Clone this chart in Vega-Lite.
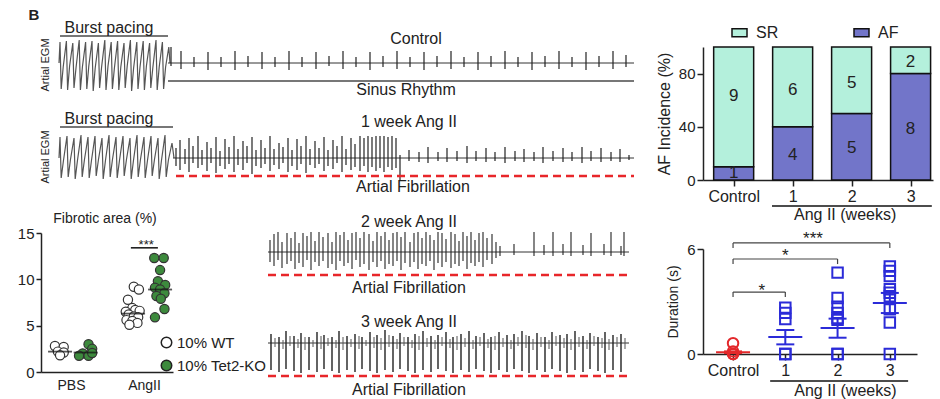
{
"$schema":"https://vega.github.io/schema/vega-lite/v6.json",
"padding":{"left":16,"top":7,"right":0,"bottom":0},
"background":"white",
"config":{"view":{"stroke":"transparent"},"font":"Liberation Sans",
"axis":{"grid":false,"domainColor":"#222","tickColor":"#222","labelColor":"#222","titleColor":"#222","domainWidth":1.5,"tickWidth":1.5,"labelFont":"Liberation Sans","titleFont":"Liberation Sans","titleFontWeight":"normal"},
"legend":{"labelFont":"Liberation Sans","labelColor":"#222"},
"text":{"font":"Liberation Sans","color":"#222"}},
"resolve":{"scale":{"color":"independent","fill":"independent"},"legend":{"color":"independent","fill":"independent"}},
"spacing":19,
"hconcat":[
{"spacing":0,"resolve":{"scale":{"fill":"independent"},"legend":{"fill":"independent"}},"vconcat":[
{"width":593,"height":56,
"encoding":{"x":{"field":"x","type":"quantitative","scale":{"domain":[-18,575],"nice":false,"zero":false},"axis":null},
"y":{"field":"y","type":"quantitative","scale":{"domain":[-40,16],"nice":false,"zero":false},"axis":null}},
"layer":[
{"data":{"values":[{"x":0,"y":0},{"x":1,"y":21},{"x":2.2,"y":-26},{"x":4.2,"y":-4},{"x":7.4,"y":22},{"x":8.6,"y":-27},{"x":10.6,"y":-3},{"x":13.8,"y":20},{"x":15,"y":-25},{"x":17,"y":-5},{"x":20.2,"y":23},{"x":21.4,"y":-27},{"x":23.4,"y":-4},{"x":26.6,"y":21},{"x":27.8,"y":-26},{"x":29.8,"y":-3},{"x":33,"y":22},{"x":34.2,"y":-28},{"x":36.2,"y":-5},{"x":39.4,"y":20},{"x":40.6,"y":-25},{"x":42.6,"y":-4},{"x":45.8,"y":23},{"x":47,"y":-27},{"x":49,"y":-3},{"x":52.2,"y":21},{"x":53.4,"y":-26},{"x":55.4,"y":-5},{"x":58.6,"y":22},{"x":59.8,"y":-27},{"x":61.8,"y":-4},{"x":65,"y":20},{"x":66.2,"y":-25},{"x":68.2,"y":-3},{"x":71.4,"y":23},{"x":72.6,"y":-28},{"x":74.6,"y":-5},{"x":77.8,"y":21},{"x":79,"y":-26},{"x":81,"y":-4},{"x":84.2,"y":22},{"x":85.4,"y":-27},{"x":87.4,"y":-3},{"x":90.6,"y":20},{"x":91.8,"y":-25},{"x":93.8,"y":-5},{"x":97,"y":23},{"x":98.2,"y":-27},{"x":100.2,"y":-4},{"x":103.4,"y":21},{"x":104.6,"y":-26},{"x":106.6,"y":-4},{"x":109.8,"y":16},{"x":111,"y":0}]},
"mark":{"type":"line","color":"#555","strokeWidth":1.2}},
{"data":{"values":[{"x":109,"x2":575,"y":0}]},"mark":{"type":"rule","color":"#333","strokeWidth":1},"encoding":{"x2":{"field":"x2"}}},
{"data":{"values":[{"x":112,"y":-3,"y2":16},{"x":122,"y":-6,"y2":12},{"x":135,"y":-4,"y2":6},{"x":149,"y":-7,"y2":11},{"x":162,"y":-4,"y2":6},{"x":176,"y":-7,"y2":12},{"x":189,"y":-4,"y2":7},{"x":203,"y":-6,"y2":11},{"x":216,"y":-4,"y2":6},{"x":230,"y":-7,"y2":12},{"x":243,"y":-4,"y2":6},{"x":257,"y":-6,"y2":11},{"x":270,"y":-3,"y2":7},{"x":284,"y":-6,"y2":12},{"x":297,"y":-4,"y2":6},{"x":311,"y":-7,"y2":11},{"x":324,"y":-4,"y2":7},{"x":338,"y":-6,"y2":12},{"x":351,"y":-4,"y2":6},{"x":365,"y":-7,"y2":11},{"x":378,"y":-4,"y2":7},{"x":392,"y":-6,"y2":12},{"x":405,"y":-4,"y2":6},{"x":419,"y":-7,"y2":11},{"x":432,"y":-4,"y2":7},{"x":446,"y":-6,"y2":12},{"x":459,"y":-4,"y2":6},{"x":473,"y":-7,"y2":11},{"x":486,"y":-4,"y2":7},{"x":500,"y":-6,"y2":12},{"x":513,"y":-4,"y2":6},{"x":527,"y":-7,"y2":11},{"x":540,"y":-4,"y2":7},{"x":554,"y":-6,"y2":12},{"x":567,"y":-4,"y2":8}]},
"mark":{"type":"rule","color":"#222","strokeWidth":1.2},"encoding":{"y2":{"field":"y2"}}},
{"data":{"values":[{"x":1,"x2":109,"y":27},{"x":109,"x2":575,"y":-18}]},"mark":{"type":"rule","color":"#777","strokeWidth":1.8},"encoding":{"x2":{"field":"x2"}}},
{"data":{"values":[{"x":50,"y":35,"t":"Burst pacing"},{"x":357,"y":24,"t":"Control"},{"x":347,"y":-27,"t":"Sinus Rhythm"}]},"mark":{"type":"text","fontSize":16,"baseline":"middle"},"encoding":{"text":{"field":"t"}}},
{"data":{"values":[{"x":-25,"y":48,"t":"B"}]},"mark":{"type":"text","fontSize":15,"fontWeight":"bold","baseline":"middle"},"encoding":{"text":{"field":"t"}}},
{"data":{"values":[{"x":-13,"y":-2,"t":"Artial EGM"}]},"mark":{"type":"text","fontSize":11,"angle":270,"baseline":"middle"},"encoding":{"text":{"field":"t"}}}
]},
{"width":593,"height":105,
"encoding":{"x":{"field":"x","type":"quantitative","scale":{"domain":[-18,575],"nice":false,"zero":false},"axis":null},
"y":{"field":"y","type":"quantitative","scale":{"domain":[-52,53],"nice":false,"zero":false},"axis":null}},
"layer":[
{"data":{"values":[{"x":0,"y":0},{"x":1,"y":21},{"x":2.2,"y":-20},{"x":4.4,"y":-3},{"x":8,"y":22},{"x":9.2,"y":-19},{"x":11.4,"y":-2},{"x":15,"y":20},{"x":16.2,"y":-21},{"x":18.4,"y":-3},{"x":22,"y":23},{"x":23.2,"y":-19},{"x":25.4,"y":-2},{"x":29,"y":21},{"x":30.2,"y":-20},{"x":32.4,"y":-3},{"x":36,"y":22},{"x":37.2,"y":-18},{"x":39.4,"y":-2},{"x":43,"y":20},{"x":44.2,"y":-21},{"x":46.4,"y":-3},{"x":50,"y":23},{"x":51.2,"y":-19},{"x":53.4,"y":-2},{"x":57,"y":21},{"x":58.2,"y":-20},{"x":60.4,"y":-3},{"x":64,"y":22},{"x":65.2,"y":-18},{"x":67.4,"y":-2},{"x":71,"y":20},{"x":72.2,"y":-21},{"x":74.4,"y":-3},{"x":78,"y":23},{"x":79.2,"y":-19},{"x":81.4,"y":-2},{"x":85,"y":21},{"x":86.2,"y":-20},{"x":88.4,"y":-3},{"x":92,"y":22},{"x":93.2,"y":-18},{"x":95.4,"y":-2},{"x":99,"y":20},{"x":100.2,"y":-21},{"x":102.4,"y":-3},{"x":106,"y":23},{"x":107.2,"y":-19},{"x":109.4,"y":-2},{"x":113,"y":15},{"x":115,"y":0}]},
"mark":{"type":"line","color":"#555","strokeWidth":1.2}},
{"data":{"values":[{"x":114,"x2":575,"y":0}]},"mark":{"type":"rule","color":"#333","strokeWidth":1},"encoding":{"x2":{"field":"x2"}}},
{"data":{"values":[{"x":117,"y":-8,"y2":10},{"x":121,"y":-12,"y2":18},{"x":126,"y":-6,"y2":9},{"x":130,"y":-14,"y2":20},{"x":134,"y":-5,"y2":12},{"x":139,"y":-10,"y2":22},{"x":143,"y":-7,"y2":8},{"x":148,"y":-13,"y2":16},{"x":152,"y":-5,"y2":10},{"x":157,"y":-15,"y2":21},{"x":161,"y":-8,"y2":7},{"x":166,"y":-11,"y2":19},{"x":170,"y":-6,"y2":11},{"x":175,"y":-14,"y2":22},{"x":179,"y":-7,"y2":9},{"x":184,"y":-12,"y2":17},{"x":188,"y":-5,"y2":12},{"x":193,"y":-16,"y2":21},{"x":197,"y":-8,"y2":8},{"x":202,"y":-10,"y2":18},{"x":206,"y":-6,"y2":10},{"x":211,"y":-13,"y2":22},{"x":215,"y":-7,"y2":9},{"x":220,"y":-11,"y2":15},{"x":224,"y":-5,"y2":11},{"x":229,"y":-14,"y2":20},{"x":233,"y":-8,"y2":8},{"x":238,"y":-12,"y2":19},{"x":242,"y":-6,"y2":12},{"x":247,"y":-15,"y2":22},{"x":251,"y":-7,"y2":9},{"x":256,"y":-10,"y2":17},{"x":260,"y":-6,"y2":10},{"x":265,"y":-13,"y2":21},{"x":269,"y":-8,"y2":8},{"x":274,"y":-11,"y2":18},{"x":278,"y":-5,"y2":12},{"x":283,"y":-14,"y2":22},{"x":287,"y":-7,"y2":9},{"x":292,"y":-12,"y2":20},{"x":296,"y":-9,"y2":14},{"x":301,"y":-13,"y2":22},{"x":305,"y":-8,"y2":20},{"x":309,"y":-14,"y2":22},{"x":313,"y":-9,"y2":21},{"x":317,"y":-13,"y2":22},{"x":321,"y":-10,"y2":22},{"x":325,"y":-14,"y2":22},{"x":329,"y":-9,"y2":21},{"x":333,"y":-12,"y2":22},{"x":337,"y":-10,"y2":20},{"x":341,"y":-22,"y2":3},{"x":350,"y":-3,"y2":8},{"x":360,"y":-4,"y2":6},{"x":369,"y":-5,"y2":11},{"x":379,"y":-3,"y2":6},{"x":388,"y":-4,"y2":10},{"x":398,"y":-3,"y2":7},{"x":408,"y":-5,"y2":12},{"x":417,"y":-3,"y2":7},{"x":427,"y":-4,"y2":10},{"x":436,"y":-3,"y2":6},{"x":446,"y":-5,"y2":11},{"x":456,"y":-3,"y2":7},{"x":465,"y":-4,"y2":9},{"x":475,"y":-3,"y2":6},{"x":484,"y":-5,"y2":11},{"x":494,"y":-3,"y2":7},{"x":504,"y":-4,"y2":10},{"x":513,"y":-3,"y2":6},{"x":523,"y":-5,"y2":11},{"x":532,"y":-3,"y2":7},{"x":542,"y":-4,"y2":10},{"x":552,"y":-3,"y2":6},{"x":561,"y":-4,"y2":9},{"x":570,"y":-2,"y2":3}]},
"mark":{"type":"rule","color":"#222","strokeWidth":1.2},"encoding":{"y2":{"field":"y2"}}},
{"data":{"values":[{"x":1,"x2":114,"y":31}]},"mark":{"type":"rule","color":"#777","strokeWidth":1.8},"encoding":{"x2":{"field":"x2"}}},
{"data":{"values":[{"x":117,"x2":575,"y":-18}]},"mark":{"type":"rule","color":"#e8262a","strokeWidth":2.5,"strokeDash":[8,5]},"encoding":{"x2":{"field":"x2"}}},
{"data":{"values":[{"x":50,"y":39,"t":"Burst pacing"},{"x":350,"y":36,"t":"1 week Ang II"},{"x":354,"y":-29,"t":"Artial Fibrillation"}]},"mark":{"type":"text","fontSize":16,"baseline":"middle"},"encoding":{"text":{"field":"t"}}},
{"data":{"values":[{"x":-13,"y":1,"t":"Artial EGM"}]},"mark":{"type":"text","fontSize":11,"angle":270,"baseline":"middle"},"encoding":{"text":{"field":"t"}}}
]},
{"spacing":-3,"resolve":{"scale":{"fill":"independent"},"legend":{"fill":"independent"}},"hconcat":[
{"width":132,"height":139,
"title":{"text":"Fibrotic area (%)","fontSize":14,"fontWeight":"normal","anchor":"start","dx":36,"offset":0,"font":"Liberation Sans","color":"#222"},
"layer":[
{"data":{"values":[{"x":0.78,"y":2.8,"gt":"10% WT"},{"x":0.9,"y":2.7,"gt":"10% WT"},{"x":0.82,"y":2.2,"gt":"10% WT"},{"x":0.9,"y":2.1,"gt":"10% WT"},{"x":0.85,"y":1.8,"gt":"10% WT"},
{"x":1.24,"y":3.0,"gt":"10% Tet2-KO"},{"x":1.29,"y":2.5,"gt":"10% Tet2-KO"},{"x":1.16,"y":2.0,"gt":"10% Tet2-KO"},{"x":1.11,"y":1.75,"gt":"10% Tet2-KO"},{"x":1.24,"y":1.75,"gt":"10% Tet2-KO"},{"x":1.29,"y":2.05,"gt":"10% Tet2-KO"},
{"x":1.78,"y":7.8,"gt":"10% WT"},{"x":1.86,"y":9.2,"gt":"10% WT"},{"x":1.93,"y":8.9,"gt":"10% WT"},{"x":1.84,"y":6.9,"gt":"10% WT"},{"x":1.75,"y":6.5,"gt":"10% WT"},{"x":1.88,"y":6.7,"gt":"10% WT"},{"x":1.94,"y":6.6,"gt":"10% WT"},{"x":1.79,"y":6.2,"gt":"10% WT"},{"x":1.86,"y":6.0,"gt":"10% WT"},{"x":1.92,"y":5.9,"gt":"10% WT"},{"x":1.76,"y":5.6,"gt":"10% WT"},{"x":1.84,"y":5.5,"gt":"10% WT"},{"x":1.91,"y":5.3,"gt":"10% WT"},{"x":1.8,"y":5.1,"gt":"10% WT"},
{"x":2.14,"y":12.3,"gt":"10% Tet2-KO"},{"x":2.27,"y":12.3,"gt":"10% Tet2-KO"},{"x":2.22,"y":11.0,"gt":"10% Tet2-KO"},{"x":2.19,"y":9.8,"gt":"10% Tet2-KO"},{"x":2.29,"y":9.4,"gt":"10% Tet2-KO"},{"x":2.15,"y":9.1,"gt":"10% Tet2-KO"},{"x":2.22,"y":8.9,"gt":"10% Tet2-KO"},{"x":2.28,"y":8.5,"gt":"10% Tet2-KO"},{"x":2.17,"y":8.2,"gt":"10% Tet2-KO"},{"x":2.23,"y":7.9,"gt":"10% Tet2-KO"},{"x":2.28,"y":6.8,"gt":"10% Tet2-KO"},{"x":2.15,"y":5.9,"gt":"10% Tet2-KO"}]},
"mark":{"type":"circle","size":85,"stroke":"#333","strokeWidth":1.2,"opacity":1},
"encoding":{"x":{"field":"x","type":"quantitative","scale":{"domain":[0.589,2.397],"nice":false,"zero":false},"axis":{"values":[1,2],"labelExpr":"datum.value == 1 ? 'PBS' : 'AngII'","ticks":false,"title":null,"labelFontSize":14,"labelPadding":6,"labelFlush":false}},
"y":{"field":"y","type":"quantitative","scale":{"domain":[0,15],"nice":false,"zero":false},"axis":{"values":[0,5,10,15],"title":null,"labelFontSize":15,"tickSize":5,"labelPadding":2}},
"fill":{"field":"gt","type":"nominal","scale":{"domain":["10% WT","10% Tet2-KO"],"range":["white","#3d8a3d"]},"legend":{"orient":"none","legendX":118,"legendY":102,"title":null,"labelFontSize":15,"symbolSize":110,"symbolType":"circle","symbolStrokeColor":"#222","symbolStrokeWidth":1.5,"rowPadding":6,"labelOffset":3}}}},
{"data":{"values":[{"x":0.85,"m":2.2},{"x":1.2,"m":2.1},{"x":1.85,"m":6.3},{"x":2.22,"m":8.9}]},"mark":{"type":"tick","orient":"horizontal","size":24,"thickness":1.8,"color":"#111"},
"encoding":{"x":{"field":"x","type":"quantitative"},"y":{"field":"m","type":"quantitative"}}},
{"data":{"values":[{"x":1.82,"x2":2.19,"y":13.4}]},"mark":{"type":"rule","color":"#111","strokeWidth":1.5},"encoding":{"x":{"field":"x","type":"quantitative"},"x2":{"field":"x2"},"y":{"field":"y","type":"quantitative"}}},
{"data":{"values":[{"x":2.03,"y":13.7,"t":"***"}]},"mark":{"type":"text","fontSize":13,"baseline":"middle"},"encoding":{"x":{"field":"x","type":"quantitative"},"y":{"field":"y","type":"quantitative"},"text":{"field":"t"}}}
]},
{"bounds":"flush","spacing":0,"vconcat":[
{"width":361,"height":67,
"encoding":{"x":{"field":"x","type":"quantitative","scale":{"domain":[0,361],"nice":false,"zero":false},"axis":null},
"y":{"field":"y","type":"quantitative","scale":{"domain":[-48,19],"nice":false,"zero":false},"axis":null}},
"layer":[
{"data":{"values":[{"x":0,"x2":361,"y":0}]},"mark":{"type":"rule","color":"#333","strokeWidth":1},"encoding":{"x2":{"field":"x2"}}},
{"data":{"values":[{"x":2,"y":-10,"y2":12},{"x":6,"y":-14,"y2":18},{"x":10,"y":-8,"y2":20},{"x":14,"y":-16,"y2":10},{"x":19,"y":-12,"y2":19},{"x":23,"y":-9,"y2":14},{"x":27,"y":-17,"y2":20},{"x":31,"y":-11,"y2":9},{"x":35,"y":-15,"y2":19},{"x":39,"y":-8,"y2":16},{"x":43,"y":-18,"y2":20},{"x":47,"y":-10,"y2":11},{"x":51,"y":-14,"y2":20},{"x":55,"y":-9,"y2":15},{"x":60,"y":-16,"y2":19},{"x":64,"y":-12,"y2":10},{"x":68,"y":-18,"y2":20},{"x":72,"y":-9,"y2":17},{"x":76,"y":-14,"y2":20},{"x":80,"y":-11,"y2":12},{"x":84,"y":-17,"y2":19},{"x":88,"y":-8,"y2":20},{"x":92,"y":-15,"y2":14},{"x":96,"y":-12,"y2":20},{"x":101,"y":-18,"y2":18},{"x":105,"y":-10,"y2":11},{"x":109,"y":-15,"y2":20},{"x":113,"y":-9,"y2":16},{"x":117,"y":-17,"y2":20},{"x":121,"y":-12,"y2":12},{"x":125,"y":-14,"y2":19},{"x":129,"y":-9,"y2":20},{"x":133,"y":-18,"y2":15},{"x":137,"y":-11,"y2":20},{"x":142,"y":-15,"y2":10},{"x":146,"y":-10,"y2":19},{"x":150,"y":-17,"y2":20},{"x":154,"y":-12,"y2":14},{"x":158,"y":-14,"y2":20},{"x":162,"y":-9,"y2":17},{"x":166,"y":-18,"y2":12},{"x":170,"y":-11,"y2":20},{"x":174,"y":-15,"y2":19},{"x":178,"y":-10,"y2":13},{"x":183,"y":-16,"y2":20},{"x":187,"y":-12,"y2":18},{"x":191,"y":-14,"y2":11},{"x":195,"y":-9,"y2":20},{"x":199,"y":-17,"y2":16},{"x":203,"y":-11,"y2":20},{"x":207,"y":-14,"y2":12},{"x":211,"y":-10,"y2":19},{"x":215,"y":-15,"y2":20},{"x":219,"y":-8,"y2":14},{"x":224,"y":-12,"y2":18},{"x":228,"y":-6,"y2":10},{"x":232,"y":-4,"y2":6},{"x":246,"y":-3,"y2":8},{"x":266,"y":-4,"y2":20},{"x":276,"y":-3,"y2":7},{"x":285,"y":-4,"y2":20},{"x":295,"y":-3,"y2":8},{"x":303,"y":-4,"y2":20},{"x":315,"y":-3,"y2":7},{"x":323,"y":-4,"y2":19},{"x":336,"y":-3,"y2":8},{"x":343,"y":-4,"y2":20},{"x":353,"y":-3,"y2":6},{"x":356,"y":-4,"y2":20}]},
"mark":{"type":"rule","color":"#222","strokeWidth":1.1},"encoding":{"y2":{"field":"y2"}}},
{"data":{"values":[{"x":0,"x2":361,"y":-23}]},"mark":{"type":"rule","color":"#e8262a","strokeWidth":2.5,"strokeDash":[8,5]},"encoding":{"x2":{"field":"x2"}}},
{"data":{"values":[{"x":141,"y":30,"t":"2 week Ang II"},{"x":141,"y":-36,"t":"Artial Fibrillation"}]},"mark":{"type":"text","fontSize":16,"baseline":"middle"},"encoding":{"text":{"field":"t"}}}
]},
{"width":361,"height":76,
"encoding":{"x":{"field":"x","type":"quantitative","scale":{"domain":[0,361],"nice":false,"zero":false},"axis":null},
"y":{"field":"y","type":"quantitative","scale":{"domain":[-33,43],"nice":false,"zero":false},"axis":null}},
"layer":[
{"data":{"values":[{"x":0,"x2":361,"y":0}]},"mark":{"type":"rule","color":"#333","strokeWidth":1},"encoding":{"x2":{"field":"x2"}}},
{"data":{"values":[{"x":3,"y":-27,"y2":9},{"x":11,"y":-29,"y2":6},{"x":18,"y":-26,"y2":12},{"x":26,"y":-28,"y2":7},{"x":33,"y":-30,"y2":10},{"x":41,"y":-27,"y2":6},{"x":49,"y":-29,"y2":11},{"x":56,"y":-26,"y2":8},{"x":64,"y":-28,"y2":6},{"x":71,"y":-30,"y2":12},{"x":79,"y":-27,"y2":7},{"x":87,"y":-29,"y2":9},{"x":94,"y":-26,"y2":6},{"x":102,"y":-28,"y2":11},{"x":109,"y":-30,"y2":8},{"x":117,"y":-27,"y2":13},{"x":125,"y":-29,"y2":7},{"x":132,"y":-26,"y2":10},{"x":140,"y":-28,"y2":6},{"x":147,"y":-30,"y2":9},{"x":155,"y":-27,"y2":12},{"x":163,"y":-29,"y2":7},{"x":170,"y":-26,"y2":8},{"x":178,"y":-28,"y2":11},{"x":185,"y":-30,"y2":6},{"x":193,"y":-27,"y2":9},{"x":201,"y":-29,"y2":12},{"x":208,"y":-26,"y2":7},{"x":216,"y":-28,"y2":10},{"x":223,"y":-30,"y2":6},{"x":231,"y":-27,"y2":11},{"x":239,"y":-29,"y2":8},{"x":246,"y":-26,"y2":9},{"x":254,"y":-28,"y2":12},{"x":261,"y":-30,"y2":7},{"x":269,"y":-27,"y2":10},{"x":277,"y":-29,"y2":6},{"x":284,"y":-26,"y2":11},{"x":292,"y":-28,"y2":8},{"x":299,"y":-30,"y2":9},{"x":307,"y":-27,"y2":12},{"x":315,"y":-29,"y2":7},{"x":322,"y":-26,"y2":10},{"x":330,"y":-28,"y2":6},{"x":337,"y":-30,"y2":11},{"x":345,"y":-27,"y2":8},{"x":353,"y":-29,"y2":9}]},
"mark":{"type":"rule","color":"#222","strokeWidth":1.4},"encoding":{"y2":{"field":"y2"}}},
{"data":{"values":[{"x":7,"y":-4,"y2":5},{"x":15,"y":-6,"y2":3},{"x":22,"y":-3,"y2":7},{"x":30,"y":-5,"y2":4},{"x":37,"y":-7,"y2":6},{"x":45,"y":-4,"y2":3},{"x":53,"y":-6,"y2":7},{"x":60,"y":-3,"y2":5},{"x":68,"y":-5,"y2":3},{"x":75,"y":-7,"y2":6},{"x":83,"y":-4,"y2":4},{"x":91,"y":-6,"y2":7},{"x":98,"y":-3,"y2":3},{"x":106,"y":-5,"y2":6},{"x":113,"y":-7,"y2":5},{"x":121,"y":-4,"y2":8},{"x":129,"y":-6,"y2":4},{"x":136,"y":-3,"y2":6},{"x":144,"y":-5,"y2":3},{"x":151,"y":-7,"y2":7},{"x":159,"y":-4,"y2":5},{"x":167,"y":-6,"y2":3},{"x":174,"y":-3,"y2":6},{"x":182,"y":-5,"y2":4},{"x":189,"y":-7,"y2":7},{"x":197,"y":-4,"y2":5},{"x":205,"y":-6,"y2":3},{"x":212,"y":-3,"y2":6},{"x":220,"y":-5,"y2":4},{"x":227,"y":-7,"y2":7},{"x":235,"y":-4,"y2":5},{"x":243,"y":-6,"y2":3},{"x":250,"y":-3,"y2":6},{"x":258,"y":-5,"y2":8},{"x":265,"y":-7,"y2":4},{"x":273,"y":-4,"y2":6},{"x":281,"y":-6,"y2":3},{"x":288,"y":-3,"y2":7},{"x":296,"y":-5,"y2":5},{"x":303,"y":-7,"y2":4},{"x":311,"y":-4,"y2":6},{"x":319,"y":-6,"y2":3},{"x":326,"y":-3,"y2":7},{"x":334,"y":-5,"y2":5},{"x":341,"y":-7,"y2":4},{"x":349,"y":-4,"y2":6},{"x":357,"y":-6,"y2":5}]},
"mark":{"type":"rule","color":"#555","strokeWidth":1},"encoding":{"y2":{"field":"y2"}}},
{"data":{"values":[{"x":0,"x2":361,"y":-33}]},"mark":{"type":"rule","color":"#e8262a","strokeWidth":2.5,"strokeDash":[8,5]},"encoding":{"x2":{"field":"x2"}}},
{"data":{"values":[{"x":141,"y":21,"t":"3 week Ang II"},{"x":141,"y":-47,"t":"Artial Fibrillation"}]},"mark":{"type":"text","fontSize":16,"baseline":"middle"},"encoding":{"text":{"field":"t"}}}
]}
]}
]}
]},
{"bounds":"flush","spacing":69,"resolve":{"scale":{"color":"independent"},"legend":{"color":"independent"}},"vconcat":[
{"width":230,"height":133,
"layer":[
{"data":{"values":[{"g":0,"type":"AF","pct":10,"o":0},{"g":0,"type":"SR","pct":90,"o":1},{"g":1,"type":"AF","pct":40,"o":0},{"g":1,"type":"SR","pct":60,"o":1},{"g":2,"type":"AF","pct":50,"o":0},{"g":2,"type":"SR","pct":50,"o":1},{"g":3,"type":"AF","pct":80,"o":0},{"g":3,"type":"SR","pct":20,"o":1}]},
"mark":{"type":"bar","width":40,"stroke":"#111","strokeWidth":1.5},
"encoding":{"x":{"field":"g","type":"quantitative","scale":{"domain":[-0.52,3.38],"nice":false,"zero":false,"padding":0},"axis":{"values":[0,1,2,3],"format":"d","labelExpr":"datum.value == 0 ? 'Control' : datum.label","title":null,"labelFontSize":16,"tickSize":6,"labelPadding":2,"labelFlush":false,"labelOverlap":false}},
"y":{"field":"pct","type":"quantitative","stack":"zero","scale":{"domain":[0,100],"nice":false},"axis":{"values":[0,20,40,60,80,100],"title":"AF Incidence (%)","titleFontSize":16,"labelFontSize":15,"tickSize":6,"titlePadding":6}},
"color":{"field":"type","type":"nominal","scale":{"domain":["SR","AF"],"range":["#b4f0dc","#7275c9"]},"legend":{"orient":"none","legendX":28,"legendY":-23,"direction":"horizontal","title":null,"labelFontSize":16,"symbolType":"M-1,-0.53H1V0.53H-1Z","symbolSize":225,"symbolStrokeColor":"#111","symbolStrokeWidth":1.5,"columnPadding":72,"labelOffset":8}},
"order":{"field":"o","type":"quantitative"}}},
{"data":{"values":[{"g":0,"ly":5,"n":"1"},{"g":0,"ly":63,"n":"9"},{"g":1,"ly":19,"n":"4"},{"g":1,"ly":68,"n":"6"},{"g":2,"ly":24,"n":"5"},{"g":2,"ly":73,"n":"5"},{"g":3,"ly":38,"n":"8"},{"g":3,"ly":89,"n":"2"}]},
"mark":{"type":"text","fontSize":17,"baseline":"middle"},
"encoding":{"x":{"field":"g","type":"quantitative"},"y":{"field":"ly","type":"quantitative"},"text":{"field":"n"}}},
{"data":{"values":[{"x":0.65,"x2":3.36,"y":-19.5}]},"mark":{"type":"rule","color":"#111","strokeWidth":1.5},"encoding":{"x":{"field":"x","type":"quantitative"},"x2":{"field":"x2"},"y":{"field":"y","type":"quantitative"}}},
{"data":{"values":[{"x":1.89,"y":-26.3,"t":"Ang II (weeks)"}]},"mark":{"type":"text","fontSize":16,"baseline":"middle"},"encoding":{"x":{"field":"x","type":"quantitative"},"y":{"field":"y","type":"quantitative"},"text":{"field":"t"}}}
]},
{"width":214,"height":105,
"layer":[
{"data":{"values":[{"x":0,"y":0.62},{"x":0,"y":0.15},{"x":0,"y":0},{"x":0,"y":0}]},
"mark":{"type":"point","shape":"circle","size":110,"strokeWidth":2,"color":"#e3282b","filled":false,"opacity":1},
"encoding":{"x":{"field":"x","type":"quantitative","scale":{"domain":[-0.575,3.52],"nice":false,"zero":false},"axis":{"values":[0,1,2,3],"format":"d","labelExpr":"datum.value == 0 ? 'Control' : datum.label","title":null,"labelFontSize":16,"tickSize":6,"labelPadding":2,"labelFlush":false,"labelOverlap":false}},
"y":{"field":"y","type":"quantitative","scale":{"domain":[0,6],"nice":false,"zero":false},"axis":{"values":[0,2,4,6],"title":"Duration (s)","titleFontSize":14,"labelFontSize":15,"tickSize":6,"titlePadding":6}}}},
{"data":{"values":[{"x":1,"y":0},{"x":1,"y":0},{"x":1,"y":2.0},{"x":1,"y":2.35},{"x":1,"y":2.65},{"x":2,"y":0},{"x":2,"y":0},{"x":2,"y":1.95},{"x":2,"y":2.05},{"x":2,"y":2.35},{"x":2,"y":2.7},{"x":2,"y":3.2},{"x":2,"y":4.65},{"x":3,"y":0},{"x":3,"y":1.8},{"x":3,"y":2.55},{"x":3,"y":3.3},{"x":3,"y":3.5},{"x":3,"y":3.7},{"x":3,"y":4.45},{"x":3,"y":4.75},{"x":3,"y":5.0}]},
"mark":{"type":"point","shape":"square","size":110,"strokeWidth":2,"color":"#2b2bd8","filled":false,"opacity":1},
"encoding":{"x":{"field":"x","type":"quantitative"},"y":{"field":"y","type":"quantitative"}}},
{"data":{"values":[{"x":0,"m":0.1,"lo":0.05,"hi":0.15,"grp":"c"},{"x":1,"m":0.97,"lo":0.55,"hi":1.37,"grp":"a"},{"x":2,"m":1.49,"lo":0.93,"hi":2.02,"grp":"a"},{"x":3,"m":2.91,"lo":2.34,"hi":3.49,"grp":"a"}]},
"layer":[
{"mark":{"type":"rule","strokeWidth":2},"encoding":{"x":{"field":"x","type":"quantitative"},"y":{"field":"lo","type":"quantitative"},"y2":{"field":"hi"},"color":{"field":"grp","type":"nominal","scale":{"domain":["c","a"],"range":["#e3282b","#2b2bd8"]},"legend":null}}},
{"mark":{"type":"tick","orient":"horizontal","size":34,"thickness":2,"opacity":1},"encoding":{"x":{"field":"x","type":"quantitative"},"y":{"field":"m","type":"quantitative"},"color":{"field":"grp","type":"nominal","legend":null}}},
{"mark":{"type":"tick","orient":"horizontal","size":18,"thickness":2,"opacity":1},"encoding":{"x":{"field":"x","type":"quantitative"},"y":{"field":"lo","type":"quantitative"},"color":{"field":"grp","type":"nominal","legend":null}}},
{"mark":{"type":"tick","orient":"horizontal","size":18,"thickness":2,"opacity":1},"encoding":{"x":{"field":"x","type":"quantitative"},"y":{"field":"hi","type":"quantitative"},"color":{"field":"grp","type":"nominal","legend":null}}}
]},
{"data":{"values":[{"a":0,"b":3,"y":6.35,"ye":6.06,"t":"***","tx":1.53,"ty":6.6},{"a":0,"b":2,"y":5.43,"ye":5.14,"t":"*","tx":1.0,"ty":5.62},{"a":0,"b":1,"y":3.54,"ye":3.26,"t":"*","tx":0.55,"ty":3.6}]},
"layer":[
{"mark":{"type":"rule","color":"#444","strokeWidth":1.2},"encoding":{"x":{"field":"a","type":"quantitative"},"x2":{"field":"b"},"y":{"field":"y","type":"quantitative"}}},
{"mark":{"type":"rule","color":"#444","strokeWidth":1.2},"encoding":{"x":{"field":"a","type":"quantitative"},"y":{"field":"y","type":"quantitative"},"y2":{"field":"ye"}}},
{"mark":{"type":"rule","color":"#444","strokeWidth":1.2},"encoding":{"x":{"field":"b","type":"quantitative"},"y":{"field":"y","type":"quantitative"},"y2":{"field":"ye"}}},
{"mark":{"type":"text","fontSize":17,"baseline":"middle"},"encoding":{"x":{"field":"tx","type":"quantitative"},"y":{"field":"ty","type":"quantitative"},"text":{"field":"t"}}}
]},
{"data":{"values":[{"x":0.71,"x2":3.35,"y":-1.54}]},"mark":{"type":"rule","color":"#111","strokeWidth":1.5},"encoding":{"x":{"field":"x","type":"quantitative"},"x2":{"field":"x2"},"y":{"field":"y","type":"quantitative"}}},
{"data":{"values":[{"x":2.15,"y":-2.1,"t":"Ang II (weeks)"}]},"mark":{"type":"text","fontSize":16,"baseline":"middle"},"encoding":{"x":{"field":"x","type":"quantitative"},"y":{"field":"y","type":"quantitative"},"text":{"field":"t"}}}
]}
]}
]
}
